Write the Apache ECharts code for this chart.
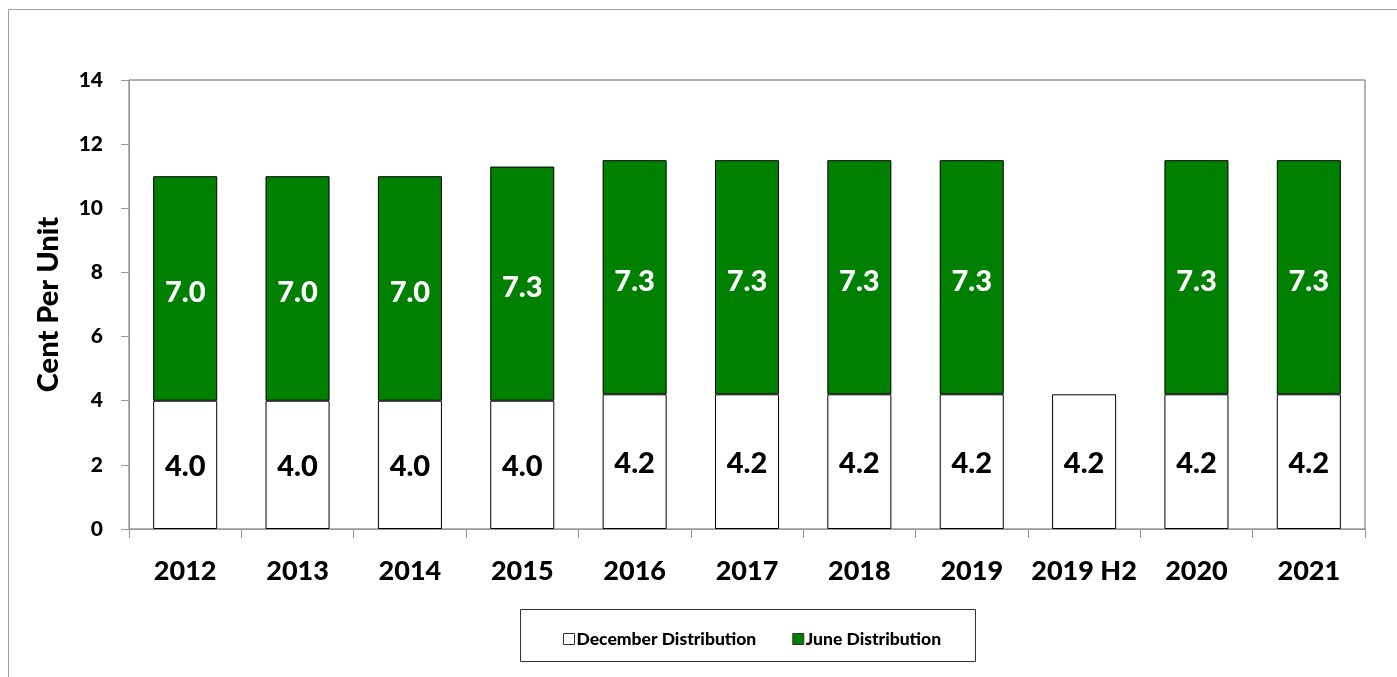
<!DOCTYPE html>
<html>
<head>
<meta charset="utf-8">
<script src="https://cdn.jsdelivr.net/npm/echarts@6/dist/echarts.min.js"></script>
<style>
  html, body { margin: 0; padding: 0; background: #fff; }
  #chart { width: 1397px; height: 677px; }
</style>
</head>
<body>
<div id="chart"></div>
<script>
// Distribution per year, cents per unit
const years = ["2012", "2013", "2014", "2015", "2016", "2017", "2018", "2019", "2019 H2", "2020", "2021"];
const decemberDist = [4.0, 4.0, 4.0, 4.0, 4.2, 4.2, 4.2, 4.2, 4.2, 4.2, 4.2];
const juneDist = [7.0, 7.0, 7.0, 7.3, 7.3, 7.3, 7.3, 7.3, null, 7.3, 7.3];
const yTicks = [0, 2, 4, 6, 8, 10, 12, 14];

const font = "Lato, 'Open Sans', sans-serif";
const chart = echarts.init(document.getElementById("chart"));

chart.setOption({
  animation: false,
  backgroundColor: "#fff",
  textStyle: { fontFamily: font },
  graphic: [
    // outer frame
    {
      type: "rect",
      shape: { x: 8.5, y: 9.5, width: 1420, height: 700 },
      style: { fill: "none", stroke: "#a0a0a0", lineWidth: 1 },
      silent: true,
    },
    // legend box
    {
      type: "rect",
      shape: { x: 520.5, y: 609.5, width: 455, height: 52 },
      style: { fill: "none", stroke: "#333", lineWidth: 1 },
      silent: true,
    },
  ],
  grid: {
    left: 129,
    top: 80,
    right: 32,
    bottom: 148,
    show: true,
    borderColor: "#666",
    borderWidth: 1,
  },
  legend: {
    left: 558,
    top: 625,
    itemWidth: 11,
    itemHeight: 11,
    itemGap: 36,
    icon: "rect",
    textStyle: { fontFamily: font, fontSize: 17.5, fontWeight: 900, color: "#000", padding: [0, 0, 0, -3] },
    data: [
      { name: "December Distribution", itemStyle: { color: "#fff", borderColor: "#333", borderWidth: 1 } },
      { name: "June Distribution", itemStyle: { color: "#008000", borderColor: "#333", borderWidth: 1 } },
    ],
  },
  xAxis: {
    type: "category",
    data: years,
    axisLine: { lineStyle: { color: "#999", width: 1 } },
    axisTick: { show: true, length: 9, lineStyle: { color: "#999" } },
    axisLabel: { interval: 0, fontFamily: font, fontSize: 27, fontWeight: 900, color: "#000", margin: 29 },
  },
  yAxis: {
    type: "value",
    min: yTicks[0],
    max: yTicks[yTicks.length - 1],
    interval: 2,
    name: "Cent Per Unit",
    nameLocation: "middle",
    nameRotate: 90,
    nameGap: 66,
    nameTextStyle: { fontFamily: font, fontSize: 29, fontWeight: 900, color: "#000" },
    axisLine: { show: true, lineStyle: { color: "#999", width: 1 } },
    axisTick: { show: true, length: 8, lineStyle: { color: "#999" } },
    splitLine: { show: false },
    axisLabel: { fontFamily: font, fontSize: 21, fontWeight: 900, color: "#000", margin: 26 },
  },
  series: [
    {
      name: "December Distribution",
      type: "bar",
      stack: "dist",
      barCategoryGap: "43%",
      data: decemberDist,
      itemStyle: { color: "#fff", borderColor: "#000", borderWidth: 1 },
      label: {
        show: true,
        position: "inside",
        offset: [0, 2],
        formatter: (p) => p.value.toFixed(1),
        fontFamily: font,
        fontSize: 29,
        fontWeight: 900,
        color: "#000",
      },
    },
    {
      name: "June Distribution",
      type: "bar",
      stack: "dist",
      data: juneDist,
      itemStyle: { color: "#008000", borderColor: "#000", borderWidth: 1 },
      label: {
        show: true,
        position: "inside",
        offset: [0, 4],
        formatter: (p) => (p.value == null ? "" : p.value.toFixed(1)),
        fontFamily: font,
        fontSize: 29,
        fontWeight: 900,
        color: "#fff",
      },
    },
  ],
});
</script>
</body>
</html>
